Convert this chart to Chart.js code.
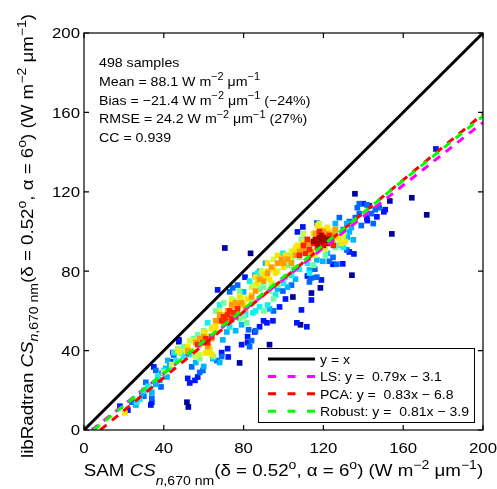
<!DOCTYPE html>
<html>
<head>
<meta charset="utf-8">
<script src="https://cdn.jsdelivr.net/npm/chart.js@4.4.0/dist/chart.umd.min.js"></script>
<style>
  body { margin: 0; background: #fff; }
</style>
</head>
<body>
<canvas id="chart_scatter" width="497" height="489"></canvas>
<script>
// axis ticks
const tickValues = [0, 40, 80, 120, 160, 200];

// regression fits
const fitNames = ['LS', 'PCA', 'Robust'];
const fitSlopes = [0.79, 0.83, 0.81];
const fitIntercepts = [-3.1, -6.8, -3.9];

// statistics box
const nSamples = 498;
const meanVal = 88.1;
const biasVal = -21.4;
const biasPct = -24;
const rmseVal = 24.2;
const rmsePct = 27;
const ccVal = 0.939;

// samples [SAM, libRadtran], grouped by point density (low -> high)
const ptsDarkBlue = [[70.6,91.7],[83.5,89],[47.5,44.5],[51.6,14],[52.3,11.6],[78,33.8],[93,43],[109.7,34.3],[104.7,67],[108.5,53],
  [118.5,71.6],[114,69],[134.3,78],[135.8,119],[153.3,115.4],[164.3,117],[171.8,108.4],[154.3,98.8]];
const ptsBlue = [[18,12],[22,10],[33.5,12.6],[34,14],[35,31.8],[44,34.3],[44.6,39],[47.6,45.4],[52,26],[53,23.7],[55.6,25],[57,26.7],
  [67,70.6],[69,39],[72,41],[72.3,36.8],[79,43],[82,44],[82,47],[85.6,49.4],[80.7,77],[88,52],[90,55],[91.7,54],[94.7,55],
  [106.7,54],[111.7,52],[109,60.5],[114,65.5],[107,99.8],[109.7,102.3],[112,77.6],[119,75.6],[124.8,83.5],[129.7,83.7],[133,89.7],
  [135.3,88.7],[141.8,106.8],[142,105.5],[146.8,107.4],[150.3,109.9],[151,111],[143,113],[140,114],[176.4,141.6],[98,62],[101,66]];
const ptsAzure = [[24,14],[31,24],[34,16],[36,30],[38.6,21.7],[45,37.8],[54,31.8],[58,29],[59.6,30],[66.6,35],[69,37],[73,69.6],
  [74.6,71.6],[83,42],[84,45],[82.5,50.5],[86,50],[99.7,70],[113,74.6],[114,76.6],[116.7,77],[115.7,81],[116.7,104.3],[123,85],
  [124.8,87],[126.7,83.5],[128,107],[130,101],[131.7,90.7],[133,105],[136,107],[137,112],[138,109],[139,103],[141.8,113.4],[144,109],
  [145,104],[146,111],[148,112],[138,114],[77,73],[95,60],[104,73],[30,17]];
const ptsSky = [[26,12.6],[29,18.6],[34,19],[36,23],[38,25],[39,28.7],[41,31],[41.6,26.7],[43,33],[49,38.8],[56,34],[60,32],[64.6,36],
  [68,34],[69.6,45.4],[71.6,49.4],[85.7,78],[80,69.6],[97,71],[113,80.6],[116.7,85.7],[119.7,85],[122,89],[131.7,104],[132,97],
  [133,99.8],[135,95.8],[134,102],[126,104],[76,50],[79,53],[93,61],[102,72],[106,76],[88,80],[91,84],[42,35]];
const ptsCyan = [[26.5,14],[28,15.5],[30,20],[32,22],[37,27],[40,30],[44,32],[46,35],[50,37],[53,38],[68,63],[84.7,59],[86,60],
  [88,62],[92,63],[99.7,89],[103,88],[111,96],[112,84],[113,79],[128,93],[130,92],[73,52],[81,58],[96,68],[100,74],[104,78],
  [108,81],[83,75],[87,79],[62,54],[45,39]];
const ptsGreen = [[47,41],[55,46],[57,48],[58,36],[60,50],[62,39],[63,40],[65,37],[70,64],[75,65],[78,56],[80,57],[81.6,54],[88,71],
  [90,72],[90,60],[93,70],[95,66],[102,83],[104,85],[108,87],[109,96],[126,92],[115,83],[128,97],[121,88],[97,73],[101,77],[105,81],
  [84,64],[78,70],[66,60],[50,42],[126,100]];
const ptsLime = [[40,29],[44,33],[48,39],[51,40],[54,40],[56,37],[58,38],[60,48],[63,47.5],[65,52],[66,50],[72,57],[76,60],[79,66],
  [86,73],[91,77],[94,74],[97,80],[104,90],[106,92],[110,99],[116,88],[118,104],[121,91],[125,95],[128,96],[100,85],[84,72],[89,80],
  [95,86],[74,66],[68,60],[130,98],[112,90],[53,45]];
const ptsYellow = [[20.5,8.6],[47,40],[52,42],[56,45],[58,43],[60.6,49.4],[61,38.8],[63,41],[64,38],[66,52],[68,55],[70,58],[74,64],
  [76,62],[80,63],[82,66],[84,68],[87,74],[90,78],[93,76],[95,81],[96,79],[98,84],[100,82],[103,87],[105,90],[107,93],[108,91],
  [112,86],[114,88],[115,99],[119,101],[122,102],[127,97],[129,94],[131,95],[101,88],[92,80],[86,77],[92,84],[97,88],[78,67],
  [64,51],[124,100],[110,95],[117,103]];
const ptsOrange = [[52,40],[56,44],[58,46],[60,44],[62,42],[64,46],[66,55],[68,56],[70,54],[72,60],[74,63],[77,63],[79,64],[81,61],
  [84,67],[86,70],[88,76],[94,82],[97,84],[99,86],[102,86],[104,84],[106,88],[108,90],[110,92],[112,94],[114,90],[116,99],[120,100],
  [122,99],[125,98],[126,101],[90,75],[92,79],[100,84],[76,64],[68,58],[60,47]];
const ptsRed = [[57,43],[59.6,44],[61,46],[62,44],[64,47],[70,57],[71,55],[72,58],[73,60],[74,56],[75,59],[76,57],[77,61],[108,88],
  [110,93],[112,96],[113,91],[115,94],[117,92],[118,100],[123,98],[124,95],[125,93],[69,55],[111,89]];
const ptsDarkRed = [[115,95],[116,96],[117,94],[118,92],[118,97],[119,95],[119,98],[120,93],[120,97],[121,96],[122,94],[123,96]];

const densityGroups = [ptsDarkBlue, ptsBlue, ptsAzure, ptsSky, ptsCyan, ptsGreen, ptsLime, ptsYellow, ptsOrange, ptsRed, ptsDarkRed];
const densityColors = ['#00009c', '#0014ff', '#0068ff', '#00b4ff', '#10f0f0', '#70ffa0', '#c8ff40', '#ffe400', '#ff9c00', '#ff2400', '#a80000'];
const fitColors = ['#ff00ff', '#ff0000', '#00ff00'];

const FONT = '"Liberation Sans", Arial, Helvetica, sans-serif';

// parts: [text, kind]  kind: '', 'it', 'sup', 'sub', 'itsub'
function drawRich(ctx, parts, x, y, size, sx, align, subShift) {
  const items = parts.map(function (p) {
    const kind = p[1] || '';
    const isSup = kind.indexOf('sup') >= 0, isSub = kind.indexOf('sub') >= 0;
    const fs = (isSup || isSub) ? Math.round(size * 0.74) : size;
    const font = (kind.indexOf('it') >= 0 ? 'italic ' : '') + fs + 'px ' + FONT;
    ctx.font = font;
    return { t: p[0], font: font, w: ctx.measureText(p[0]).width,
      dy: isSup ? -size * 0.42 : (isSub ? (subShift || size * 0.35) : 0) };
  });
  const total = items.reduce(function (a, b) { return a + b.w; }, 0);
  ctx.save();
  ctx.translate(x, y);
  ctx.scale(sx, 1);
  ctx.textAlign = 'left';
  ctx.textBaseline = 'alphabetic';
  ctx.fillStyle = '#000';
  let cx = align === 'center' ? -total / 2 : (align === 'right' ? -total : 0);
  items.forEach(function (it) { ctx.font = it.font; ctx.fillText(it.t, cx, it.dy); cx += it.w; });
  ctx.restore();
}

function fmtSigned(v) { return (v < 0 ? '\u2212' : '') + Math.abs(v); }

const unitParts = [[' (W m'], ['\u22122', 'sup'], [' \u03bcm'], ['\u22121', 'sup'], [')']];
const csParts = [['CS', 'it'], ['n', 'itsub'], [',670 nm', 'sub'], ['(\u03b4 = 0.52'], ['o', 'sup'], [', \u03b1 = 6'], ['o', 'sup'], [')']];

const statLines = [
  [[nSamples + ' samples']],
  [['Mean = ' + meanVal + ' W m'], ['\u22122', 'sup'], [' \u03bcm'], ['\u22121', 'sup']],
  [['Bias = ' + fmtSigned(biasVal) + ' W m'], ['\u22122', 'sup'], [' \u03bcm'], ['\u22121', 'sup'], [' (' + fmtSigned(biasPct) + '%)']],
  [['RMSE = ' + rmseVal + ' W m'], ['\u22122', 'sup'], [' \u03bcm'], ['\u22121', 'sup'], [' (' + rmsePct + '%)']],
  [['CC = ' + ccVal]]
];

const matlabAxes = {
  id: 'matlabAxes',
  afterDraw: function (chart) {
    const ctx = chart.ctx, a = chart.chartArea;
    const xs = chart.scales.x, ys = chart.scales.y;
    ctx.save();
    // box
    ctx.strokeStyle = '#000';
    ctx.lineWidth = 1.2;
    ctx.strokeRect(a.left, a.top, a.right - a.left, a.bottom - a.top);
    // inward ticks + labels
    tickValues.forEach(function (v) {
      const px = xs.getPixelForValue(v), py = ys.getPixelForValue(v);
      ctx.beginPath();
      ctx.moveTo(px, a.bottom); ctx.lineTo(px, a.bottom - 5);
      ctx.moveTo(px, a.top); ctx.lineTo(px, a.top + 5);
      ctx.moveTo(a.left, py); ctx.lineTo(a.left + 5, py);
      ctx.moveTo(a.right, py); ctx.lineTo(a.right - 5, py);
      ctx.stroke();
      drawRich(ctx, [[String(v)]], px, a.bottom + 23, 15, 1.12, 'center');
      drawRich(ctx, [[String(v)]], a.left - 4, py + 5.4, 15, 1.12, 'right');
    });
    // axis titles
    drawRich(ctx, [['SAM ']].concat(csParts, unitParts), (a.left + a.right) / 2, 476, 16, 1.17, 'center', 9);
    ctx.save();
    ctx.translate(33, 236);
    ctx.rotate(-Math.PI / 2);
    drawRich(ctx, [['libRadtran ']].concat(csParts, unitParts), 0, 0, 16, 1.17, 'center', 5);
    ctx.restore();
    // statistics
    statLines.forEach(function (ln, i) {
      drawRich(ctx, ln, a.left + 15, 67 + i * 18.8, 13, 1.09, 'left');
    });
    // legend
    const lx = 258, ly = 348, lw = 216, lh = 74;
    ctx.fillStyle = '#fff';
    ctx.fillRect(lx, ly, lw, lh);
    ctx.lineWidth = 1;
    ctx.strokeStyle = '#000';
    ctx.strokeRect(lx + 0.5, ly + 0.5, lw, lh);
    chart.data.datasets.filter(function (d) { return d.inLegend; }).forEach(function (d, i) {
      const yy = 359 + i * 17.4;
      ctx.beginPath();
      ctx.strokeStyle = d.borderColor;
      ctx.lineWidth = 3;
      ctx.setLineDash(d.borderDash ? [8, 11.5] : []);
      ctx.moveTo(268, yy); ctx.lineTo(315, yy);
      ctx.stroke();
      ctx.setLineDash([]);
      drawRich(ctx, [[d.label]], 320, yy + 4.7, 13, 1.08, 'left');
    });
    ctx.restore();
  }
};

const datasets = [];
datasets.push({
  label: 'y = x', inLegend: true, showLine: true, order: 4,
  data: [{ x: tickValues[0], y: tickValues[0] }, { x: tickValues[tickValues.length - 1], y: tickValues[tickValues.length - 1] }],
  borderColor: '#000', borderWidth: 3, pointRadius: 0
});
fitNames.forEach(function (name, i) {
  const a = fitSlopes[i], b = fitIntercepts[i];
  const x0 = Math.max(0, -b / a), x1 = 200;
  datasets.push({
    label: name + ': y =  ' + a.toFixed(2) + 'x \u2212 ' + Math.abs(b).toFixed(1),
    inLegend: true, showLine: true, order: 3 - i,
    data: [{ x: x0, y: a * x0 + b }, { x: x1, y: a * x1 + b }],
    borderColor: fitColors[i], borderWidth: 3, borderDash: [8, 7], pointRadius: 0
  });
});
densityGroups.forEach(function (g, i) {
  datasets.push({
    label: 'density ' + i, order: 20 - i,
    data: g.map(function (p) { return { x: p[0], y: p[1] }; }),
    pointStyle: 'rect', pointRadius: 4, borderWidth: 0,
    backgroundColor: densityColors[i], pointBorderWidth: 0
  });
});

var myChart = new Chart(document.getElementById('chart_scatter'), {
  type: 'scatter',
  data: { datasets: datasets },
  options: {
    responsive: false,
    animation: false,
    devicePixelRatio: 1,
    layout: { padding: { top: 33, right: 14, left: 0, bottom: 0 } },
    plugins: { legend: { display: false }, tooltip: { enabled: false } },
    scales: {
      x: {
        type: 'linear', min: 0, max: 200,
        ticks: { display: false, stepSize: 40 },
        grid: { display: false }, border: { display: false },
        afterFit: function (s) { s.height = 59; }
      },
      y: {
        type: 'linear', min: 0, max: 200,
        ticks: { display: false, stepSize: 40 },
        grid: { display: false }, border: { display: false },
        afterFit: function (s) { s.width = 84; }
      }
    }
  },
  plugins: [matlabAxes]
});
</script>
</body>
</html>
